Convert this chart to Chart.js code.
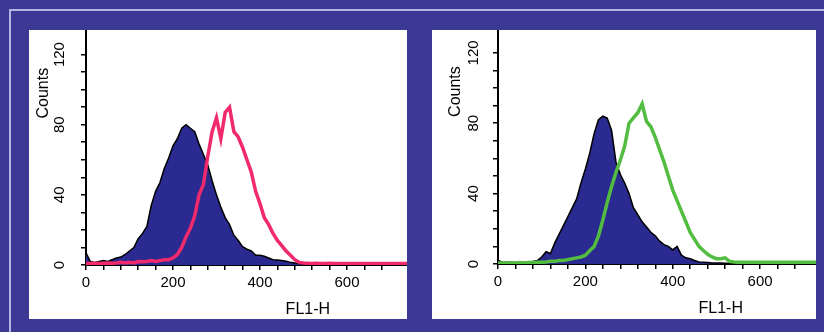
<!DOCTYPE html>
<html>
<head>
<meta charset="utf-8">
<script src="https://cdn.jsdelivr.net/npm/chart.js@4.4.1/dist/chart.umd.min.js"></script>
<style>
    body { margin: 0; background: #3c3994; width: 824px; height: 332px; overflow: hidden; position: relative; }
    #frame { position: absolute; left: 9px; top: 9px; width: 820px; height: 330px; border-top: 2px solid #b4b4e2; border-left: 2px solid #b4b4e2; }
    canvas { position: absolute; background: #fff; }
    #leftPlot { left: 29px; top: 30px; }
    #rightPlot { left: 432px; top: 30px; }
</style>
</head>
<body>
<div id="frame"></div>
<canvas id="leftPlot" width="378" height="289"></canvas>
<canvas id="rightPlot" width="384" height="289"></canvas>

<script>
// FL1-H channel (every 10)
const channels = [0, 10, 20, 30, 40, 50, 60, 70, 80, 90,
    100, 110, 120, 130, 140, 150, 160, 170, 180, 190,
    200, 210, 220, 230, 240, 250, 260, 270, 280, 290,
    300, 310, 320, 330, 340, 350, 360, 370, 380, 390,
    400, 410, 420, 430, 440, 450, 460, 470, 480, 490,
    500, 510, 520, 530, 540, 550, 560, 570, 580, 590,
    600, 610, 620, 630, 640, 650, 660, 670, 680, 690,
    700, 710, 720, 730, 740];

// left panel: control (filled) and stained (pink)
const controlLeft = [7, 2, 1.5, 2, 2.5, 2, 3, 4, 4.5, 6,
    8, 10, 15, 18, 22, 34, 42, 47, 55, 61,
    68, 72, 78, 80, 78, 76, 69, 63, 57, 48,
    40, 33, 27, 23, 17, 14, 10.5, 9, 8, 5.5,
    5.5, 5, 4, 3, 2.8, 2.5, 2.2, 1.5, 1.2, 0.8,
    0.6, 1, 0.5, 0.4, 0.8, 0.4, 0.3, 0.6, 0.3, 0.3,
    0.5, 0.3, 0.3, 0.3, 0.4, 0.3, 0.3, 0.3, 0.3, 0.3,
    0.3, 0.3, 0.3, 0.3, 0.3];
const stainedLeft = [0.8, 0.8, 1, 0.8, 1, 1.2, 1, 1.2, 1.5, 1.2,
    1.5, 1.2, 2, 1.8, 2, 2.5, 2, 2.5, 3, 3,
    4, 6, 10, 16, 21, 28, 40, 46, 62, 76,
    84, 72, 87, 90, 76, 73, 67, 60, 53, 42,
    35, 27, 23, 18, 14, 11, 8, 5.5, 3, 1.5,
    1.2, 1, 0.8, 1, 0.8, 0.8, 1, 0.8, 0.8, 0.8,
    0.8, 0.8, 0.8, 0.8, 0.8, 0.8, 0.8, 0.8, 0.8, 0.8,
    0.8, 0.8, 0.8, 0.8, 0.8];

// right panel: control (filled) and stained (green)
const controlRight = [2, 1, 1, 1, 0.8, 1, 1, 1, 1.5, 2,
    4, 7, 6, 12, 17, 22, 27, 32, 37, 46,
    54, 63, 74, 82, 84, 83, 76, 58, 51, 46,
    40, 32, 28, 24, 21, 18, 16, 13, 11, 10,
    8, 10, 5, 3.5, 3, 2, 1.2, 1, 0.8, 0.6,
    0.5, 0.5, 0.4, 0.4, 0.4, 0.3, 0.3, 0.3, 0.3, 0.3,
    0.3, 0.3, 0.3, 0.3, 0.3, 0.3, 0.3, 0.3, 0.3, 0.3,
    0.3, 0.3, 0.3, 0.3, 0.3];
const stainedRight = [0.5, 0.6, 0.5, 0.6, 0.6, 0.8, 0.6, 0.8, 0.8, 1,
    1, 1.2, 1.5, 1.5, 2, 2, 2.5, 3, 3.5, 4,
    5, 7.5, 10, 16, 25, 35, 44, 52, 59, 67,
    80, 83, 86, 91, 81, 78, 72, 65, 58, 50,
    42, 36, 30, 24, 18, 14, 10, 7.7, 5.5, 4,
    3, 3, 3.5, 1.5, 1.2, 1, 1, 1, 1, 1,
    1, 1, 1, 1, 1, 1, 1, 1, 1, 1,
    1, 1, 1, 1, 1];

const xTickStep = 40;
const xLabelStep = 200;
const yTickStep = 10;
const yLabelStep = 40;

const tickFont = { family: "'Liberation Sans', Arial, sans-serif", size: 15 };

function points(values) {
    return channels.map((c, i) => ({ x: c, y: values[i] }));
}

// axis titles sit at fixed spots in the original figure
const axisTitles = {
    id: 'axisTitles',
    afterDraw(chart) {
        const ctx = chart.ctx;
        const area = chart.chartArea;
        ctx.save();
        ctx.fillStyle = '#000';
        ctx.font = "16px 'Liberation Sans', Arial, sans-serif";
        ctx.textAlign = 'center';
        ctx.textBaseline = 'middle';
        ctx.fillText('FL1-H', chart.scales.x.getPixelForValue(510), area.bottom + 45);
        ctx.translate(area.left - 42, chart.scales.y.getPixelForValue(98));
        ctx.rotate(-Math.PI / 2);
        ctx.fillText('Counts', 0, 0);
        ctx.restore();
    }
};

function makeHistogram(id, control, stained, lineColor, setup) {
    const ctx = document.getElementById(id).getContext('2d');
    return new Chart(ctx, {
        type: 'line',
        data: {
            datasets: [{
                data: points(stained),
                borderColor: lineColor,
                borderWidth: 3.5,
                pointRadius: 0,
                fill: false
            }, {
                data: points(control),
                borderColor: '#000',
                borderWidth: 1.5,
                backgroundColor: '#2a2a90',
                pointRadius: 0,
                fill: 'origin'
            }]
        },
        options: {
            responsive: false,
            animation: false,
            devicePixelRatio: 1,
            layout: { padding: 0 },
            plugins: { legend: { display: false }, tooltip: { enabled: false } },
            scales: {
                x: {
                    type: 'linear',
                    min: 0,
                    max: setup.xMax,
                    grid: { drawOnChartArea: false, tickLength: 5, color: '#000', lineWidth: 1.5 },
                    border: { color: '#000', width: 2 },
                    ticks: {
                        stepSize: xTickStep,
                        autoSkip: false,
                        maxRotation: 0,
                        padding: 4,
                        color: '#000',
                        font: tickFont,
                        callback: v => (v % xLabelStep === 0 ? v : '')
                    },
                    afterBuildTicks: s => { s.ticks = s.ticks.filter(t => t.value % xTickStep === 0); },
                    afterFit: s => { s.height = setup.xHeight; s.paddingLeft = 0; s.paddingRight = 0; }
                },
                y: {
                    min: 0,
                    max: setup.yMax,
                    grid: { drawOnChartArea: false, tickLength: 5, color: '#000', lineWidth: 1.5 },
                    border: { color: '#000', width: 2 },
                    ticks: {
                        stepSize: yTickStep,
                        autoSkip: false,
                        minRotation: 90,
                        maxRotation: 90,
                        crossAlign: 'center',
                        padding: setup.yPad,
                        color: '#000',
                        font: tickFont,
                        callback: v => (v % yLabelStep === 0 ? v : '')
                    },
                    afterBuildTicks: s => { s.ticks = s.ticks.filter(t => t.value % yTickStep === 0); },
                    afterFit: s => { s.width = setup.yWidth; s.paddingTop = 0; s.paddingBottom = 0; }
                }
            }
        },
        plugins: [axisTitles]
    });
}

makeHistogram('leftPlot', controlLeft, stainedLeft, '#f02a6c',
    { xMax: 738, yMax: 134, yWidth: 57, xHeight: 54, yPad: 9 });
makeHistogram('rightPlot', controlRight, stainedRight, '#52bd40',
    { xMax: 728, yMax: 133, yWidth: 66, xHeight: 55, yPad: 7 });
</script>
</body>
</html>
